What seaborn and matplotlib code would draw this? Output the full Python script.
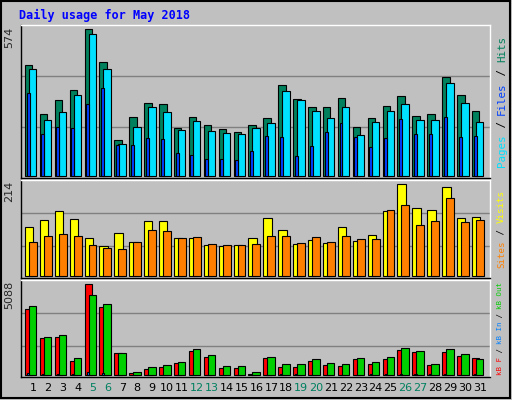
import matplotlib
matplotlib.use("Agg")
import matplotlib.pyplot as plt
import numpy as np
import seaborn as sns

days = list(range(1, 32))
weekend = [5, 6, 12, 13, 19, 20, 26, 27]

hits = [434, 241, 296, 335, 574, 445, 140, 230, 284, 280, 187, 230, 198, 183, 171, 198,
        226, 355, 300, 269, 269, 304, 190, 226, 273, 312, 234, 241, 386, 316, 253]
files = [417, 218, 249, 316, 554, 417, 124, 190, 269, 249, 179, 214, 175, 167, 163, 187,
         206, 331, 296, 253, 226, 269, 159, 210, 253, 280, 218, 218, 363, 284, 210]
pages = [324, 163, 190, 187, 280, 343, 120, 120, 147, 143, 89, 81, 65, 65, 61, 97,
         155, 151, 77, 116, 171, 206, 151, 112, 147, 222, 163, 163, 230, 151, 155]
visits = [114, 130, 151, 132, 88, 69, 100, 79, 128, 128, 88, 88, 72, 69, 72, 88,
          135, 107, 74, 83, 76, 114, 81, 95, 151, 214, 158, 153, 207, 135, 137]
sites = [79, 93, 97, 93, 72, 65, 62, 79, 107, 104, 88, 90, 74, 72, 72, 74,
         93, 93, 76, 90, 79, 93, 86, 86, 153, 165, 118, 128, 181, 125, 130]
kb_f = [3690, 2069, 2125, 783, 5088, 3803, 1230, 112, 336, 447, 671, 1342, 1007, 391, 391, 56,
        951, 447, 447, 783, 559, 503, 895, 615, 895, 1398, 1286, 559, 1286, 1062, 951]
kb_out = [3858, 2125, 2237, 951, 4474, 3970, 1230, 168, 447, 559, 727, 1454, 1118, 503, 503, 168,
          1007, 615, 615, 895, 671, 615, 951, 727, 1007, 1510, 1342, 615, 1454, 1174, 895]
kb_in = [150, 90, 90, 90, 160, 150, 40, 10, 30, 40, 40, 40, 40, 30, 30, 10,
         40, 60, 60, 40, 40, 40, 40, 60, 90, 90, 90, 60, 90, 40, 90]

sns.set_style("white")
plt.rcParams["font.family"] = ["DejaVu Sans"]

BG = "#C0C0C0"
fig = plt.figure(figsize=(5.12, 4), dpi=100, facecolor=BG)
x = np.array(days)


def panel(rect, top, lower, upper, grid):
    ax = fig.add_axes(rect)
    ax.set_facecolor(BG)
    ax.set_xlim(0.195, 31.67)
    ax.set_ylim(lower, upper)
    for g in grid:
        ax.axhline(g, color="#808080", lw=1, zorder=0)
    ax.set_xticks([])
    ax.set_yticks([])
    for s in ax.spines.values():
        s.set_color("black")
        s.set_linewidth(1)
    ax.spines["top"].set_color("white")
    ax.spines["right"].set_color("white")
    ax.text(-0.025, 0.99, str(top), transform=ax.transAxes, rotation=90,
            ha="center", va="top", fontsize=8)
    return ax


kw = dict(align="edge", edgecolor="black", linewidth=0.8)

ax1 = panel([21 / 512, 1 - 178 / 400, 469 / 512, 153 / 400], 574, -7.8, 591, [390, 190])
ax1.bar(x - 0.54, hits, width=0.5, color="#00805C", **kw)
ax1.bar(x - 0.27, files, width=0.5, color="#00E0FF", **kw)
ax1.bar(x - 0.43, pages, width=0.2, color="#0040FF", **kw)

ax2 = panel([21 / 512, 1 - 278 / 400, 469 / 512, 98 / 400], 214, -4.7, 224, [146, 69])
ax2.bar(x - 0.54, visits, width=0.56, color="#FFFF00", **kw)
ax2.bar(x - 0.27, sites, width=0.53, color="#FF8000", **kw)

ax3 = panel([21 / 512, 1 - 377 / 400, 469 / 512, 97 / 400], 5088, -95, 5328, [3486, 1622])
ax3.bar(x - 0.54, kb_f, width=0.5, color="#FF0000", **kw)
ax3.bar(x - 0.27, kb_out, width=0.5, color="#00D000", **kw)
ax3.bar(x - 0.40, kb_in, width=0.14, color="#0080FF", **kw)

for d in days:
    ax3.text(d, -0.11, str(d), transform=ax3.get_xaxis_transform(), ha="center", va="center",
             fontsize=8, color="#008060" if d in weekend else "black")


def side_label(ax, parts, fs):
    # stack coloured pieces bottom to top, rotated
    bb = ax.get_window_extent()
    ch = 0.602 * fs * 100 / 72
    total = sum(len(t) for t, _ in parts) * ch
    y = bb.y0 + (bb.height - total) / 2
    for t, c in parts:
        fig.text(497 / 512, y / 400, t, rotation=90, ha="left", va="bottom",
                 family="DejaVu Sans Mono", fontsize=fs, color=c)
        y += len(t) * ch


fig.canvas.draw()
side_label(ax1, [("Pages", "#00E0FF"), (" / ", "black"), ("Files", "#0040FF"),
                 (" / ", "black"), ("Hits", "#00805C")], 7.8)
side_label(ax2, [("Sites", "#FF8000"), (" / ", "black"), ("Visits", "#FFFF00")], 6.6)
side_label(ax3, [("kB F", "#FF0000"), (" / ", "black"), ("kB In", "#0080FF"),
                 (" / ", "black"), ("kB Out", "#00D000")], 5.3)

fig.text(19 / 512, 1 - 15 / 400, "Daily usage for May 2018", family="DejaVu Sans Mono",
         fontweight="bold", fontsize=8.5, color="#0000FF", va="center")

fig.patches.append(plt.Rectangle((0.002, 0.004), 0.994, 0.994, transform=fig.transFigure,
                                 fill=False, edgecolor="black", lw=1.5))

fig.savefig("out.png", dpi=100, facecolor=BG)
